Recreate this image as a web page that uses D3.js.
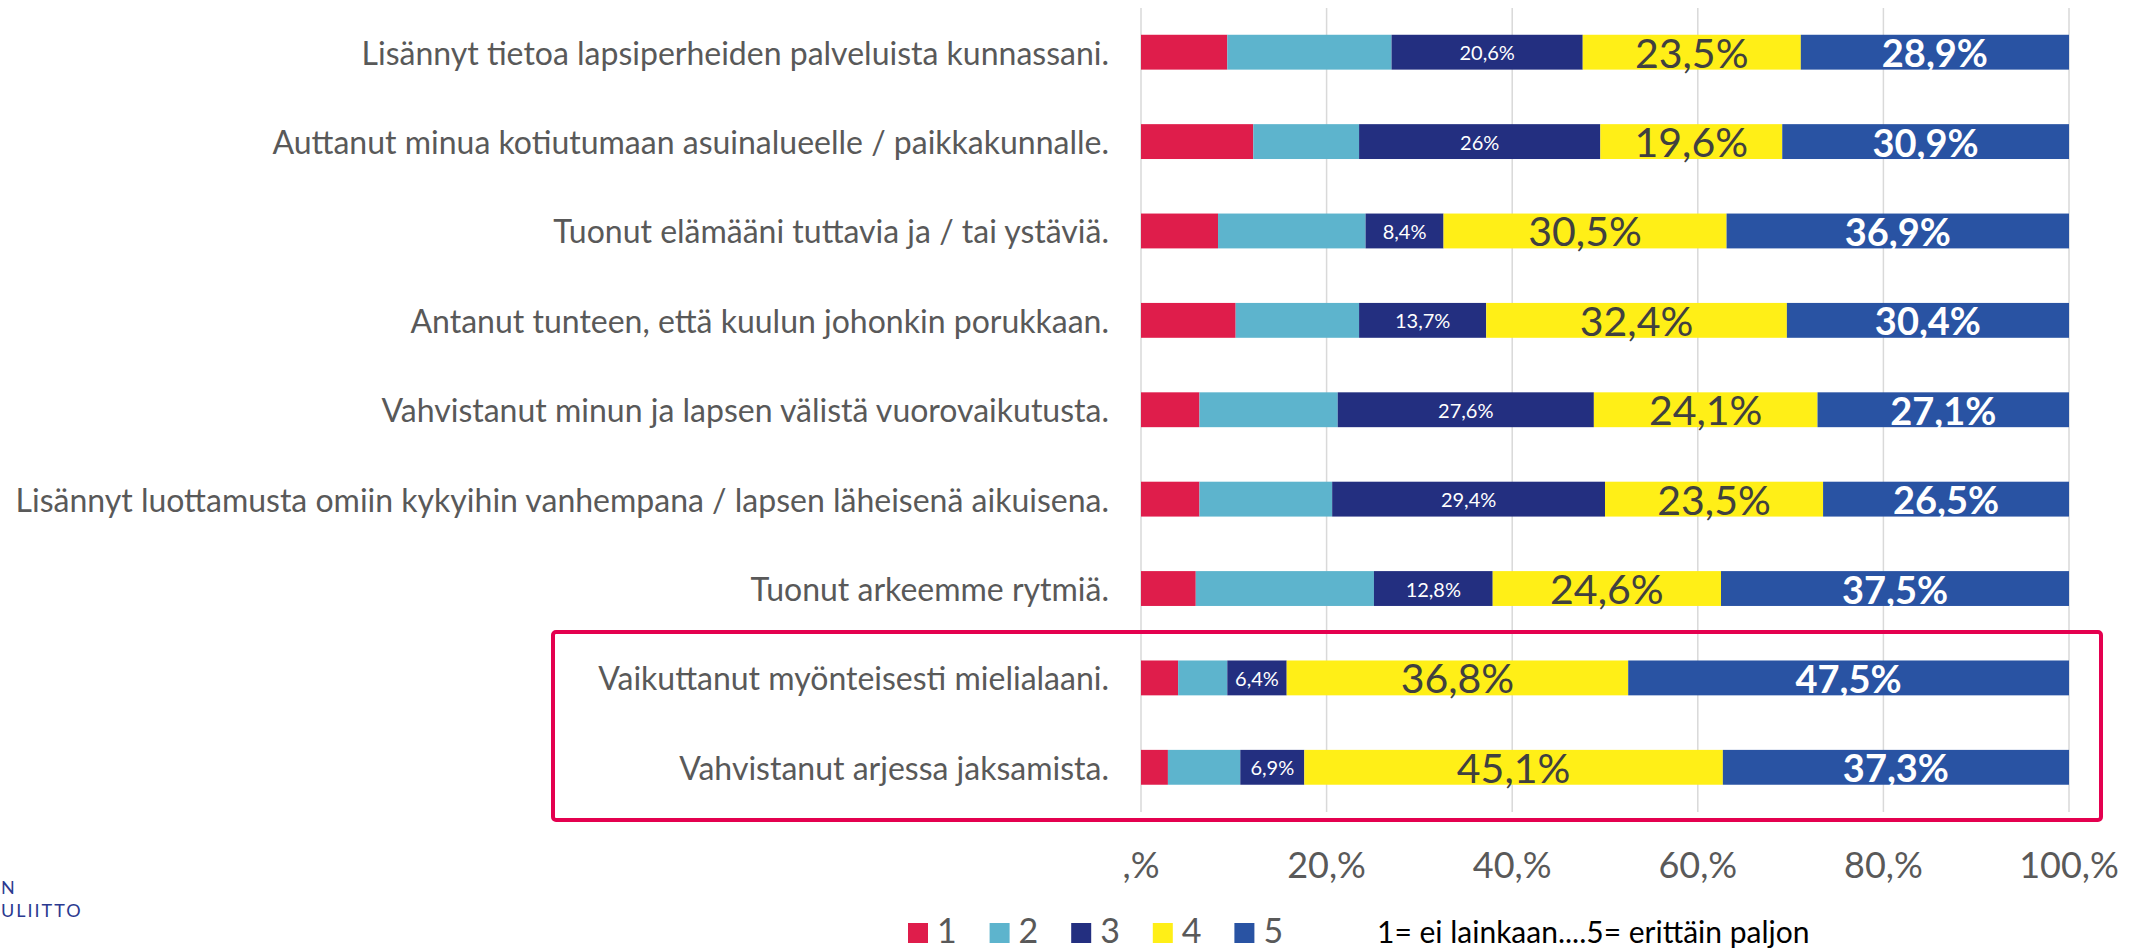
<!DOCTYPE html>
<html>
<head>
<meta charset="utf-8">
<script src="https://cdn.jsdelivr.net/npm/d3@7"></script>
<style>
html,body{margin:0;padding:0;background:#fff;}
svg{display:block;}
</style>
</head>
<body>
<svg id="chart" width="2136" height="951"></svg>
<script>
const categories = [
  "Lisännyt tietoa lapsiperheiden palveluista kunnassani.",
  "Auttanut minua kotiutumaan asuinalueelle / paikkakunnalle.",
  "Tuonut elämääni tuttavia ja / tai ystäviä.",
  "Antanut tunteen, että kuulun johonkin porukkaan.",
  "Vahvistanut minun ja lapsen välistä vuorovaikutusta.",
  "Lisännyt luottamusta omiin kykyihin vanhempana / lapsen läheisenä aikuisena.",
  "Tuonut arkeemme rytmiä.",
  "Vaikuttanut myönteisesti mielialaani.",
  "Vahvistanut arjessa jaksamista."
];
const seriesNames = ["1","2","3","4","5"];
const s1 = [9.3, 12.1, 8.3, 10.2, 6.3, 6.3, 5.9, 4.0, 2.9];
const s2 = [17.7, 11.4, 15.9, 13.3, 14.9, 14.3, 19.2, 5.3, 7.8];
const s3 = [20.6, 26, 8.4, 13.7, 27.6, 29.4, 12.8, 6.4, 6.9];
const s4 = [23.5, 19.6, 30.5, 32.4, 24.1, 23.5, 24.6, 36.8, 45.1];
const s5 = [28.9, 30.9, 36.9, 30.4, 27.1, 26.5, 37.5, 47.5, 37.3];
const tickValues = [0, 20, 40, 60, 80, 100];
const tickLabels = [",%", "20,%", "40,%", "60,%", "80,%", "100,%"];
const colors = ["#DF1D4B", "#5DB4CD", "#232F80", "#FFEF17", "#2953A3"];
const noteText = "1= ei lainkaan....5= erittäin paljon";
const logoLines = ["N", "ULIITTO"];

const svg = d3.select("#chart");
const x = d3.scaleLinear().domain([0, 100]).range([1141, 2069]);
const y = d3.scaleBand().domain(categories).range([7.5, 812]).paddingInner(0.61).paddingOuter(0.305);

const allSeries = [s1, s2, s3, s4, s5];
const rows = categories.map((c, i) => {
  const o = {cat: c};
  seriesNames.forEach((k, j) => o[k] = allSeries[j][i]);
  return o;
});
const stacked = d3.stack().keys(seriesNames)(rows);

// gridlines
svg.append("g").selectAll("line").data(tickValues).join("line")
  .attr("x1", d => x(d)).attr("x2", d => x(d))
  .attr("y1", 8).attr("y2", 812)
  .attr("stroke", "#D9D9D9").attr("stroke-width", 1.5);

// bars
const layers = svg.append("g").selectAll("g").data(stacked).join("g")
  .attr("fill", (d, i) => colors[i]);
layers.selectAll("rect").data(d => d).join("rect")
  .attr("x", d => x(d[0]))
  .attr("y", d => y(d.data.cat))
  .attr("width", d => x(d[1]) - x(d[0]))
  .attr("height", y.bandwidth());

// data labels for series 3,4,5
const labelStyles = {
  "3": {size: 20, weight: 400, fill: "#FFFFFF"},
  "4": {size: 41, weight: 400, fill: "#404040"},
  "5": {size: 38, weight: 700, fill: "#FFFFFF"}
};
stacked.filter(s => labelStyles[s.key]).forEach(s => {
  const st = labelStyles[s.key];
  svg.append("g").selectAll("text").data(s).join("text")
    .attr("x", d => (x(d[0]) + x(d[1])) / 2)
    .attr("y", d => y(d.data.cat) + y.bandwidth() / 2)
    .attr("text-anchor", "middle")
    .attr("dominant-baseline", "central")
    .attr("font-family", "Lato, sans-serif")
    .attr("font-size", st.size)
    .attr("font-weight", st.weight)
    .attr("fill", st.fill)
    .text(d => String(d.data[s.key]).replace(".", ",") + "%");
});

// category labels
svg.append("g").selectAll("text").data(categories).join("text")
  .attr("x", 1109)
  .attr("y", d => y(d) + y.bandwidth() / 2)
  .attr("text-anchor", "end")
  .attr("dominant-baseline", "central")
  .attr("font-family", "Lato, sans-serif")
  .attr("font-size", 32)
  .attr("fill", "#595959")
  .text(d => d);

// x tick labels
svg.append("g").selectAll("text").data(tickValues).join("text")
  .attr("x", d => x(d))
  .attr("y", 864)
  .attr("text-anchor", "middle")
  .attr("dominant-baseline", "central")
  .attr("font-family", "Lato, sans-serif")
  .attr("font-size", 36)
  .attr("fill", "#595959")
  .text((d, i) => tickLabels[i]);

// highlight box
svg.append("rect")
  .attr("x", 553).attr("y", 632)
  .attr("width", 2101 - 553).attr("height", 820 - 632)
  .attr("rx", 3).attr("ry", 3)
  .attr("fill", "none")
  .attr("stroke", "#E4004F")
  .attr("stroke-width", 4);

// legend
const leg = svg.append("g").selectAll("g").data(seriesNames).join("g")
  .attr("transform", (d, i) => `translate(${908 + i * 81.6},923)`);
leg.append("rect").attr("width", 20).attr("height", 20).attr("fill", (d, i) => colors[i]);
leg.append("text")
  .attr("x", 29).attr("y", 20)
  .attr("font-family", "Lato, sans-serif")
  .attr("font-size", 34)
  .attr("fill", "#595959")
  .text(d => d);

// note
svg.append("text")
  .attr("x", 1377).attr("y", 931)
  .attr("dominant-baseline", "central")
  .attr("font-family", "Lato, sans-serif")
  .attr("font-size", 30)
  .attr("fill", "#000000")
  .text(noteText);

// logo fragment
svg.append("g").selectAll("text").data(logoLines).join("text")
  .attr("x", 1)
  .attr("y", (d, i) => i === 0 ? 887 : 910)
  .attr("dominant-baseline", "central")
  .attr("font-family", "Lato, sans-serif")
  .attr("font-size", 18)
  .attr("letter-spacing", 2)
  .attr("fill", "#2B3990")
  .text(d => d);
</script>
</body>
</html>
